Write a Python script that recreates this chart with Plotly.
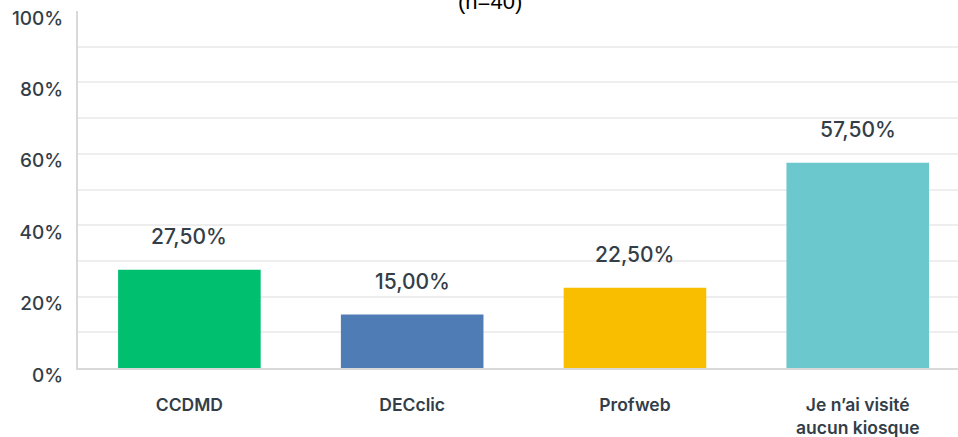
import plotly.graph_objects as go

categories = ["CCDMD", "DECclic", "Profweb", "Je n’ai visité<br>aucun kiosque"]
values = [27.5, 15.0, 22.5, 57.5]
value_labels = ["27,50%", "15,00%", "22,50%", "57,50%"]
colors = ["#00BF6F", "#507CB6", "#F9BE00", "#6BC8CD"]
tick_vals = [0, 20, 40, 60, 80, 100]
tick_text = ["0%", "20%", "40%", "60%", "80%", "100%"]
title_text = "(n=40)"

txt_color = "#333E48"

fig = go.Figure()
fig.add_trace(go.Bar(
    x=list(range(len(categories))),
    y=values,
    marker=dict(color=colors, line=dict(width=0)),
    width=0.64,
    hoverinfo="skip",
))

for i, (v, lab) in enumerate(zip(values, value_labels)):
    fig.add_annotation(
        x=i, y=v, xref="x", yref="y", text=lab, showarrow=False,
        yanchor="middle", yshift=33,
        font=dict(family="Inter", size=21, color=txt_color, weight=500),
    )

fig.add_annotation(
    x=(490 - 78) / 880, y=1, xref="paper", yref="paper", text=title_text,
    showarrow=False, yanchor="bottom", yshift=-5,
    font=dict(family="Liberation Sans, Arial", size=22, color="#000000"),
)

fig.update_layout(
    width=958, height=437,
    margin=dict(l=78, r=0, t=11, b=69, autoexpand=False),
    plot_bgcolor="white", paper_bgcolor="white",
    showlegend=False,
    xaxis=dict(
        range=[-0.5, 3.45],
        tickmode="array", tickvals=list(range(len(categories))), ticktext=categories,
        showgrid=False, zeroline=False, automargin=False,
        showline=True, linecolor="#D9D9D9", linewidth=2,
        ticks="", ticklabelstandoff=20,
        tickfont=dict(family="Inter", size=17.5, color=txt_color, weight=600),
    ),
    yaxis=dict(
        range=[0, 100],
        tickmode="array", tickvals=tick_vals, ticktext=tick_text,
        showgrid=True, gridcolor="#EEEEEE", gridwidth=2,
        minor=dict(dtick=10, showgrid=True, gridcolor="#EEEEEE", gridwidth=2),
        zeroline=False, automargin=False,
        showline=True, linecolor="#D9D9D9", linewidth=2,
        ticks="", ticklabelstandoff=9, ticklabelshift=7,
        ticklabeloverflow="allow",
        tickfont=dict(family="Inter", size=19, color=txt_color, weight=500),
    ),
)

fig.write_html("out.html", config={"displayModeBar": False},
               post_script="document.body.style.margin='0';")
